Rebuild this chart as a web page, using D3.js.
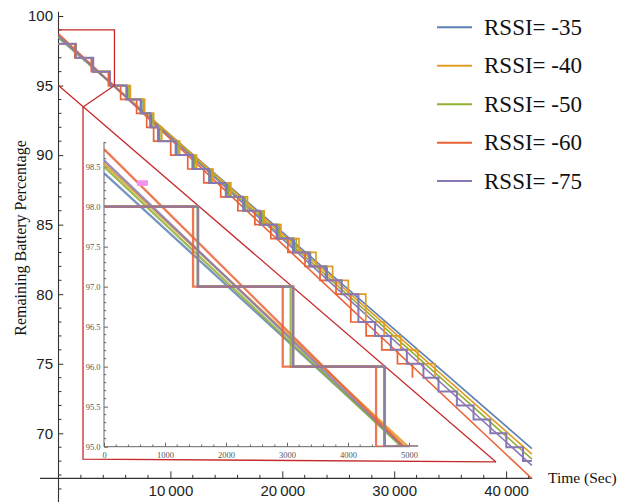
<!DOCTYPE html>
<html><head><meta charset="utf-8">
<script src="https://cdn.jsdelivr.net/npm/d3@7"></script>
<style>body{margin:0;background:#fff}svg{display:block}</style>
</head><body>
<svg id="c" width="623" height="502"></svg>
<script>
// ---------------- DATA ----------------
const seriesNames  = ["RSSI= -35", "RSSI= -40", "RSSI= -50", "RSSI= -60", "RSSI= -75"];
const seriesColors = ["#5E81B5", "#E19C24", "#8FB032", "#EB6235", "#8778B3"];

// fitted lines: battery % at t = 0 s and at t = 42300 s
const lineTimes   = [0, 42300];
const blueLine    = [98.42, 68.90];
const orangeLine  = [98.54, 68.50];
const greenLine   = [98.50, 68.15];
const redLine     = [98.72, 66.75];
const purpleLine  = [98.58, 67.70];

// measured (integer) battery %, as step series: time of change (s) and new level
const blueStepTimes   = [0,1540,3100,4600,6160,7440,8290,8990,10570,12070,13560,15050,16600,18100,19590,21050,22510,24000];
const blueStepLevels  = [98,97,96,95,94,93,92,91,90,89,88,87,86,85,84,83,82,81];
const orangeStepTimes = [0,1540,3100,4600,6420,7700,8500,9220,10830,12330,13810,15400,16890,18380,19880,21490,23010,24500,25900,27460,29100,30590,32120,33660];
const orangeStepLevels= [98,97,96,95,94,93,92,91,90,89,88,87,86,85,84,83,82,81,80,78,77,76,75,74];
const greenStepTimes  = [0,1540,3060,4600,6300,7600,8450,9180,10680,12180,13670,15220,16710,18250,19750,21250];
const greenStepLevels = [98,97,96,95,94,93,92,91,90,89,88,87,86,85,84,83];
const redStepTimes    = [0,1460,2930,4460,5550,6980,7880,8500,10030,11550,12980,14500,16030,17550,18980,20500,22030,23370,24800,26120,27490,28890,30290,31630];
const redStepLevels   = [98,97,96,95,94,93,92,91,90,89,88,87,86,85,84,83,82,81,80,78,77,76,75,74];
const purpleStepTimes = [0,1540,3100,4600,6060,7340,8190,8890,10470,11970,13460,14950,16500,18000,19490,20950,22410,23900,25310,26800,28290,29700,31130,32610,33960,35600,37090,38590,40020,41510,42300];
const purpleStepLevels= [98,97,96,95,94,93,92,91,90,89,88,87,86,85,84,83,82,81,80,78,77,76,75,74,73,72,71,70,69,68,68];

// ticks
const xTicksMain      = [10000, 20000, 30000, 40000];
const xTickLabelsMain = ["10\u2009000", "20\u2009000", "30\u2009000", "40\u2009000"];
const yTicksMain      = [70, 75, 80, 85, 90, 95, 100];
const xTicksInset     = [0, 1000, 2000, 3000, 4000, 5000];
const yTicksInset     = [95.0, 95.5, 96.0, 96.5, 97.0, 97.5, 98.0, 98.5];

// zoom annotation (main-plot data units: seconds, %)
const zoomBox     = [[0, 99], [5000, 99], [5000, 95]];
const insetTL     = [2190, 93.46];
const insetBL     = [2190, 68.15];
const insetBR     = [39100, 67.94];
const zoomCorner0 = [0, 95];
const zoomCorner1 = [5000, 95];
const pinkMark    = [[540, 98.33], [720, 98.26]]; // small artefact in inset

// ---------------- BUILD ----------------
const svg = d3.select("#c");
const lines = [blueLine, orangeLine, greenLine, redLine, purpleLine];
const stepT = [blueStepTimes, orangeStepTimes, greenStepTimes, redStepTimes, purpleStepTimes];
const stepL = [blueStepLevels, orangeStepLevels, greenStepLevels, redStepLevels, purpleStepLevels];
const lineData = lines.map(v => lineTimes.map((t, i) => ({t, v: v[i]})));
const stepData = stepT.map((ts, k) => ts.map((t, i) => ({t, v: stepL[k][i]})));

const xM = d3.scaleLinear().domain([0, 40000]).range([58.5, 506.1]);
const yM = d3.scaleLinear().domain([70, 100]).range([433.3, 16]);
const xI = d3.scaleLinear().domain([0, 5000]).range([104, 409]);
const yI = d3.scaleLinear().domain([95, 98.5]).range([446.7, 166.7]);

const axisCol = "#333";
const sans = "'Liberation Sans', Arial, sans-serif";
const serif = "'Liberation Serif', 'Times New Roman', serif";

// ---- main axes ----
const xAxisY = yM(66.76);
const gx = svg.append("g").attr("transform", `translate(0,${xAxisY})`)
  .call(d3.axisBottom(xM).tickValues(xTicksMain).tickFormat((d, i) => xTickLabelsMain[i])
    .tickSizeInner(-7).tickSizeOuter(0).tickPadding(7));
gx.select(".domain").remove();
gx.selectAll(".tick line").attr("stroke", axisCol).attr("stroke-width", 1);
gx.selectAll("text").attr("font-family", sans).attr("font-size", 15).attr("fill", "#222");
svg.append("g").selectAll("line").data(d3.range(2000, 42001, 2000).filter(d => d % 10000)).join("line")
  .attr("x1", d => xM(d)).attr("x2", d => xM(d)).attr("y1", xAxisY).attr("y2", xAxisY - 3.5)
  .attr("stroke", axisCol);
svg.append("line").attr("x1", 40).attr("x2", xM(42330)).attr("y1", xAxisY).attr("y2", xAxisY)
  .attr("stroke", axisCol).attr("stroke-width", 1.1);

const gy = svg.append("g").attr("transform", `translate(${xM(0)},0)`)
  .call(d3.axisLeft(yM).tickValues(yTicksMain).tickSizeInner(-4.8).tickSizeOuter(0).tickPadding(5.5));
gy.select(".domain").remove();
gy.selectAll(".tick line").attr("stroke", axisCol);
gy.selectAll("text").attr("font-family", sans).attr("font-size", 15).attr("fill", "#222");
svg.append("g").selectAll("line").data(d3.range(66, 100, 1).filter(d => d % 5)).join("line")
  .attr("x1", xM(0)).attr("x2", xM(0) + 3).attr("y1", d => yM(d)).attr("y2", d => yM(d))
  .attr("stroke", axisCol);
svg.append("line").attr("x1", xM(0)).attr("x2", xM(0)).attr("y1", yM(100.3)).attr("y2", 502)
  .attr("stroke", axisCol).attr("stroke-width", 1.1);

svg.append("text").attr("x", 548).attr("y", 483).attr("font-family", serif).attr("font-size", 15.5)
  .attr("fill", "#111").text("Time (Sec)");
svg.append("text").attr("transform", "translate(26,238) rotate(-90)").attr("text-anchor", "middle")
  .attr("font-family", serif).attr("font-size", 16).attr("fill", "#111").text("Remaining Battery Percentage");

// ---- main data ----
const lineM = d3.line().x(d => xM(d.t)).y(d => yM(d.v));
const stepM = d3.line().curve(d3.curveStepAfter).x(d => xM(d.t)).y(d => yM(d.v));
const gm = svg.append("g");
lineData.forEach((d, k) => gm.append("path").attr("d", lineM(d)).attr("fill", "none")
  .attr("stroke", seriesColors[k]).attr("stroke-width", 1.6));
[0, 2, 3, 1, 4].forEach(k => gm.append("path").attr("d", stepM(stepData[k])).attr("fill", "none")
  .attr("stroke", seriesColors[k]).attr("stroke-width", k === 4 ? 2 : 1.7).attr("stroke-linejoin", "miter"));

// ---- zoom frame ----
const red = "#C62A2A";
const fr = d3.line().x(d => xM(d[0])).y(d => yM(d[1]));
const gf = svg.append("g").attr("fill", "none").attr("stroke", red).attr("stroke-width", 1.3);
gf.append("path").attr("d", fr(zoomBox));
gf.append("path").attr("d", fr([zoomCorner1, insetTL]));
gf.append("path").attr("d", fr([zoomCorner0, insetBR]));
gf.append("path").attr("d", fr([insetTL, insetBL, insetBR]));

// ---- inset ----
const defs = svg.append("defs");
defs.append("clipPath").attr("id", "ic").append("rect")
  .attr("x", xI(0)).attr("y", yI(98.81)).attr("width", xI(5150) - xI(0)).attr("height", yI(95) - yI(98.81));
defs.append("filter").attr("id", "soft").append("feGaussianBlur").attr("stdDeviation", 0.45);

const icol = "#666";
const gi = svg.append("g");
const gix = gi.append("g").attr("transform", `translate(0,${yI(95)})`)
  .call(d3.axisBottom(xI).tickValues(xTicksInset).tickFormat(d3.format("d")).tickSizeInner(-4).tickSizeOuter(0).tickPadding(5.3));
gix.select(".domain").remove();
gix.selectAll(".tick line").attr("stroke", icol);
gix.selectAll("text").attr("font-family", serif).attr("font-size", 8.5).attr("fill", "#555");
gi.append("g").selectAll("line").data(d3.range(200, 5000, 200).filter(d => d % 1000)).join("line")
  .attr("x1", d => xI(d)).attr("x2", d => xI(d)).attr("y1", yI(95)).attr("y2", yI(95) - 2.2).attr("stroke", icol);
gi.append("line").attr("x1", xI(0)).attr("x2", xI(5010)).attr("y1", yI(95)).attr("y2", yI(95)).attr("stroke", icol);

const giy = gi.append("g").attr("transform", `translate(${xI(0)},0)`)
  .call(d3.axisLeft(yI).tickValues(yTicksInset).tickFormat(d3.format(".1f")).tickSizeInner(-4).tickSizeOuter(0).tickPadding(3.5));
giy.select(".domain").remove();
giy.selectAll(".tick line").attr("stroke", icol);
giy.selectAll("text").attr("font-family", serif).attr("font-size", 8.5).attr("fill", "#555");
gi.append("g").selectAll("line").data(d3.range(95.1, 98.8, 0.1).filter(d => Math.abs(d * 2 - Math.round(d * 2)) > 0.01)).join("line")
  .attr("x1", xI(0)).attr("x2", xI(0) + 2.2).attr("y1", d => yI(d)).attr("y2", d => yI(d)).attr("stroke", icol);
gi.append("line").attr("x1", xI(0)).attr("x2", xI(0)).attr("y1", yI(95)).attr("y2", yI(98.81)).attr("stroke", icol);

const lineI = d3.line().x(d => xI(d.t)).y(d => yI(d.v));
const stepI = d3.line().curve(d3.curveStepAfter).x(d => xI(d.t)).y(d => yI(d.v));
const gid = gi.append("g").attr("clip-path", "url(#ic)").append("g").attr("filter", "url(#soft)");
[1, 0, 2, 4, 3].forEach(k => gid.append("path").attr("d", lineI(lineData[k])).attr("fill", "none")
  .attr("stroke", seriesColors[k]).attr("stroke-width", 2.3).attr("stroke-opacity", 0.85));
[0, 1, 2, 3, 4].forEach(k => gid.append("path").attr("d", stepI(stepData[k])).attr("fill", "none")
  .attr("stroke", seriesColors[k]).attr("stroke-width", 2.3).attr("stroke-opacity", 0.85));
gi.append("rect").attr("x", xI(pinkMark[0][0])).attr("y", yI(pinkMark[0][1]))
  .attr("width", xI(pinkMark[1][0]) - xI(pinkMark[0][0])).attr("height", yI(pinkMark[1][1]) - yI(pinkMark[0][1]))
  .attr("fill", "#F590F0").attr("filter", "url(#soft)");

// ---- legend ----
const lg = svg.append("g");
seriesNames.forEach((n, i) => {
  const y = 27.3 + i * 38.45;
  lg.append("line").attr("x1", 437).attr("x2", 472).attr("y1", y).attr("y2", y)
    .attr("stroke", seriesColors[i]).attr("stroke-width", 2);
  lg.append("text").attr("x", 484).attr("y", y + 7.6).attr("font-family", serif).attr("font-size", 23)
    .attr("fill", "#111").text(n);
});
</script>
</body></html>
